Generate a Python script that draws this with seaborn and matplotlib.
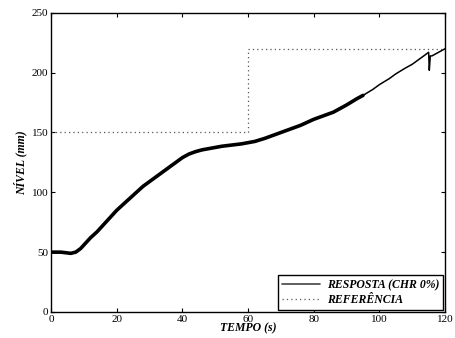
import matplotlib
matplotlib.use("Agg")
import matplotlib.pyplot as plt
from matplotlib.lines import Line2D
import pandas as pd
import seaborn as sns

# response (nivel, mm)
tempo = [0, 3, 6, 7.5, 9, 10, 12, 14, 16, 18, 20, 22, 24, 26, 28, 30, 32, 34, 36, 38,
         40, 42, 44, 46, 48, 50, 52, 55, 58, 60, 62, 65, 68, 70, 73, 76, 80, 83, 86,
         90, 93, 95, 98, 100, 103, 105, 108, 110, 112, 114, 115, 115.2, 115.5, 116, 118, 120]
nivel = [50, 50, 49, 50, 53, 56, 62, 67, 73, 79, 85, 90, 95, 100, 105, 109, 113, 117, 121, 125,
         129, 132, 134, 135.5, 136.5, 137.5, 138.5, 139.5, 140.5, 141.5, 142.5, 145, 148, 150, 153, 156, 161, 164, 167,
         173, 178, 181, 186, 190, 195, 199, 204, 207, 211, 215, 217, 202, 214, 214, 217, 220]

# reference setpoint
ref_tempo = [0, 60, 60, 120]
ref_nivel = [150, 150, 220, 220]

resp = pd.DataFrame({"t": tempo, "v": nivel})
ref = pd.DataFrame({"t": ref_tempo, "v": ref_nivel})

sns.set_theme(style="ticks")
plt.rcParams["font.family"] = ["Liberation Serif", "DejaVu Serif"]
plt.rcParams["text.color"] = "black"
plt.rcParams["axes.labelcolor"] = "black"
plt.rcParams["xtick.color"] = "black"
plt.rcParams["ytick.color"] = "black"

fig, ax = plt.subplots(figsize=(4.56, 3.38), dpi=100)
fig.subplots_adjust(left=0.112, right=0.976, top=0.962, bottom=0.077)

noisy = resp[resp.t <= 96]
smooth = resp[resp.t >= 95]
sns.lineplot(data=noisy, x="t", y="v", ax=ax, color="black", linewidth=2.6,
             estimator=None, sort=False)
sns.lineplot(data=smooth, x="t", y="v", ax=ax, color="black", linewidth=1.1,
             estimator=None, sort=False)
sns.lineplot(data=ref, x="t", y="v", ax=ax, color="#555555", linewidth=0.9,
             linestyle=(0, (1, 2.5)), estimator=None, sort=False)

ax.set_xlim(0, 120)
ax.set_ylim(0, 250)
ax.set_xticks(range(0, 121, 20))
ax.set_yticks(range(0, 251, 50))
ax.tick_params(direction="in", top=True, right=True, labelsize=8, length=3, width=0.8, pad=2)
for s in ax.spines.values():
    s.set_linewidth(1.0)
    s.set_color("black")

bi = dict(fontsize=8.5, fontweight="bold", fontstyle="italic")
ax.set_xlabel("TEMPO (s)", labelpad=-1, **bi)
ax.set_ylabel("NÍVEL (mm)", labelpad=3, **bi)

handles = [Line2D([], [], color="#444444", linewidth=1.2),
           Line2D([], [], color="#555555", linewidth=0.9, linestyle=(0, (1, 2.5)))]
labels = ["RESPOSTA (CHR 0%)", "REFERÊNCIA"]
leg = ax.legend(handles, labels, loc="lower right", fancybox=False, framealpha=1,
                edgecolor="black", borderaxespad=0.15, handlelength=3.2, handletextpad=0.6,
                prop=dict(family="Liberation Serif", weight="bold", style="italic", size=8.5),
                borderpad=0.35, labelspacing=0.25)
leg.get_frame().set_linewidth(1.0)

fig.savefig("out.png", dpi=100)
